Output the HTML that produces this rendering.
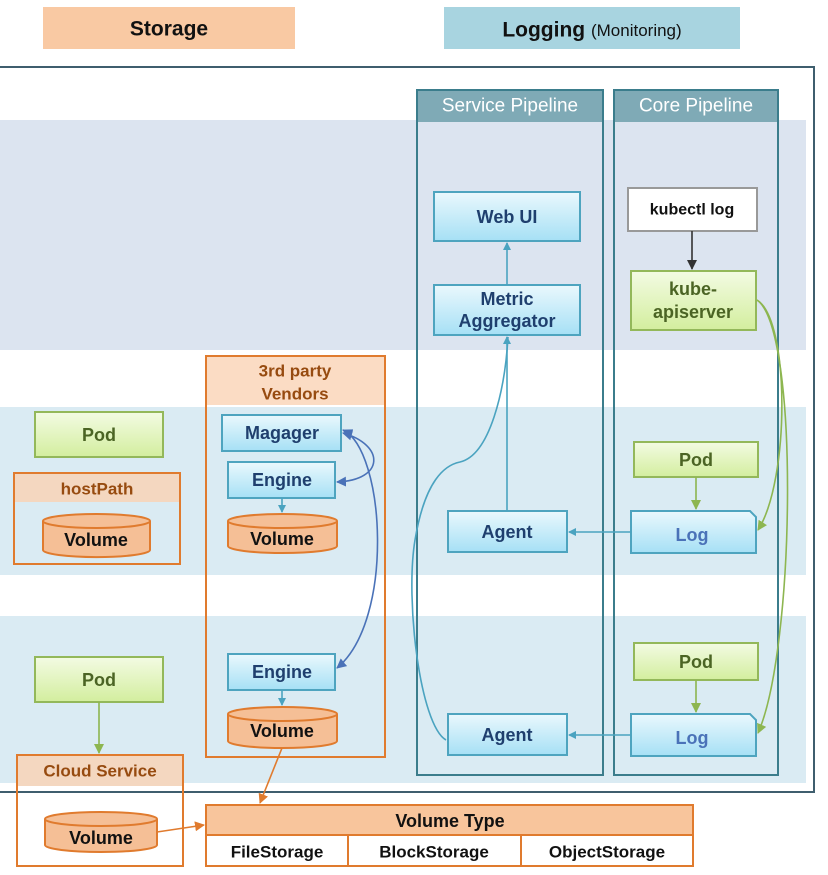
<!DOCTYPE html>
<html><head><meta charset="utf-8"><style>
html,body{margin:0;padding:0;background:#fff}
svg{display:block}
text{font-family:"Liberation Sans","DejaVu Sans",sans-serif;font-weight:bold;text-anchor:middle;dominant-baseline:central}
text.n{font-weight:normal}
</style></head><body>
<svg width="828" height="875" viewBox="0 0 828 875" xmlns="http://www.w3.org/2000/svg">
<defs>
<linearGradient id="bl" x1="0" y1="0" x2="0" y2="1"><stop offset="0" stop-color="#eaf8fd"/><stop offset="1" stop-color="#a6e0f5"/></linearGradient>
<linearGradient id="gr" x1="0" y1="0" x2="0" y2="1"><stop offset="0" stop-color="#f3fbe3"/><stop offset="1" stop-color="#d3ee9e"/></linearGradient>
<marker id="aB" markerWidth="8" markerHeight="8" refX="7" refY="4" orient="auto" markerUnits="userSpaceOnUse"><path d="M0,0L8,4L0,8z" fill="#4aa3c0"/></marker>
<marker id="aD" markerWidth="10" markerHeight="10" refX="9" refY="5" orient="auto-start-reverse" markerUnits="userSpaceOnUse"><path d="M0,0L10,5L0,10z" fill="#4a72b8"/></marker>
<marker id="aG" markerWidth="10" markerHeight="10" refX="9" refY="5" orient="auto" markerUnits="userSpaceOnUse"><path d="M0,0L10,5L0,10z" fill="#8db650"/></marker>
<marker id="aK" markerWidth="10" markerHeight="10" refX="9" refY="5" orient="auto" markerUnits="userSpaceOnUse"><path d="M0,0L10,5L0,10z" fill="#333"/></marker>
<marker id="aO" markerWidth="10" markerHeight="10" refX="9" refY="5" orient="auto" markerUnits="userSpaceOnUse"><path d="M0,0L10,5L0,10z" fill="#e07b2e"/></marker>
</defs>
<rect x="43" y="7" width="252" height="42" fill="#f9c9a3"/>
<text x="169" y="29" font-size="21" fill="#111">Storage</text>
<rect x="444" y="7" width="296" height="42" fill="#a8d4e0"/>
<text x="592" y="30" font-size="21" fill="#111">Logging <tspan style="font-weight:normal" font-size="17">(Monitoring)</tspan></text>
<rect x="0" y="120" width="806" height="230" fill="#dce4f0"/>
<rect x="0" y="407" width="806" height="168" fill="#daebf3"/>
<rect x="0" y="616" width="806" height="167" fill="#daebf3"/>
<rect x="-2" y="67" width="816" height="725" fill="none" stroke="#3f5e6e" stroke-width="2"/>
<rect x="417" y="90" width="186" height="32" fill="#7faab6"/>
<text class="n" x="510" y="106" font-size="19" fill="#fff">Service Pipeline</text>
<rect x="417" y="90" width="186" height="685" fill="none" stroke="#3b7d8c" stroke-width="2"/>
<rect x="614" y="90" width="164" height="32" fill="#7faab6"/>
<text class="n" x="696" y="106" font-size="19" fill="#fff">Core Pipeline</text>
<rect x="614" y="90" width="164" height="685" fill="none" stroke="#3b7d8c" stroke-width="2"/>
<rect x="206" y="356" width="179" height="49" fill="#fbdcc4"/>
<rect x="206" y="356" width="179" height="401" fill="none" stroke="#e07b2e" stroke-width="2"/>
<text x="295" y="371" font-size="17" fill="#974b10">3rd party</text>
<text x="295" y="394" font-size="17" fill="#974b10">Vendors</text>
<rect x="14" y="473" width="166" height="29" fill="#f4d7c0"/>
<rect x="14" y="473" width="166" height="91" fill="none" stroke="#e07b2e" stroke-width="2"/>
<text x="97" y="489" font-size="17" fill="#974b10">hostPath</text>
<rect x="17" y="755" width="166" height="31" fill="#f4d7c0"/>
<rect x="17" y="755" width="166" height="111" fill="none" stroke="#e07b2e" stroke-width="2"/>
<text x="100" y="771" font-size="17" fill="#974b10">Cloud Service</text>
<rect x="206" y="805" width="487" height="30" fill="#f8c59c" stroke="#e07b2e" stroke-width="2"/>
<rect x="206" y="835" width="487" height="31" fill="#fff" stroke="#e07b2e" stroke-width="2"/>
<line x1="348" y1="835" x2="348" y2="866" stroke="#e07b2e" stroke-width="2"/>
<line x1="521" y1="835" x2="521" y2="866" stroke="#e07b2e" stroke-width="2"/>
<text x="450" y="821" font-size="18" fill="#111">Volume Type</text>
<text x="277" y="852" font-size="17" fill="#111">FileStorage</text>
<text x="434" y="852" font-size="17" fill="#111">BlockStorage</text>
<text x="607" y="852" font-size="17" fill="#111">ObjectStorage</text>
<g stroke="#93b85a" stroke-width="2" fill="url(#gr)">
<rect x="35" y="412" width="128" height="45"/>
<rect x="35" y="657" width="128" height="45"/>
<rect x="634" y="442" width="124" height="35"/>
<rect x="634" y="643" width="124" height="37"/>
<rect x="631" y="271" width="125" height="59"/>
</g>
<g font-size="18" fill="#4b6424">
<text x="99" y="435">Pod</text><text x="99" y="680">Pod</text>
<text x="696" y="460">Pod</text><text x="696" y="662">Pod</text>
<text x="693" y="289">kube-</text><text x="693" y="312">apiserver</text>
</g>
<rect x="628" y="188" width="129" height="43" fill="#fff" stroke="#999" stroke-width="2"/>
<text x="692" y="210" font-size="16" fill="#111">kubectl log</text>
<g stroke="#4ea4bf" stroke-width="2" fill="url(#bl)">
<rect x="434" y="192" width="146" height="49"/>
<rect x="434" y="285" width="146" height="50"/>
<rect x="448" y="511" width="119" height="41"/>
<rect x="448" y="714" width="119" height="41"/>
<rect x="222" y="415" width="119" height="36"/>
<rect x="228" y="462" width="107" height="36"/>
<rect x="228" y="654" width="107" height="36"/>
<path d="M631,511H750L756,517V553H631Z"/>
<path d="M631,714H750L756,720V756H631Z"/>
</g>
<g font-size="18" fill="#1f3f6e">
<text x="507" y="217">Web UI</text>
<text x="507" y="299">Metric</text><text x="507" y="321">Aggregator</text>
<text x="507" y="532">Agent</text><text x="507" y="735">Agent</text>
<text x="282" y="433">Magager</text><text x="282" y="480">Engine</text><text x="282" y="672">Engine</text>
</g>
<g font-size="18" fill="#4a72b8"><text x="692" y="535">Log</text><text x="692" y="738">Log</text></g>
<g stroke="#e07b2e" stroke-width="2" fill="#f5bf96">
<path d="M43,521V550A53,7 0 0 0 150,550V521"/><ellipse cx="96.5" cy="521" rx="53.5" ry="7"/>
<path d="M228,521V546A54.5,7 0 0 0 337,546V521"/><ellipse cx="282.5" cy="521" rx="54.5" ry="7"/>
<path d="M228,714V741A54.5,7 0 0 0 337,741V714"/><ellipse cx="282.5" cy="714" rx="54.5" ry="7"/>
<path d="M45,819V845A56,7 0 0 0 157,845V819"/><ellipse cx="101" cy="819" rx="56" ry="7"/>
</g>
<g font-size="18" fill="#111">
<text x="96" y="540">Volume</text><text x="282" y="539">Volume</text>
<text x="282" y="731">Volume</text><text x="101" y="838">Volume</text>
</g>
<g fill="none" stroke-width="1.6">
<path d="M507,285V243" stroke="#4aa3c0" marker-end="url(#aB)"/>
<path d="M507,511V337" stroke="#4aa3c0" marker-end="url(#aB)"/>
<path d="M446,740C420,725 405,600 415,540C425,480 445,465 460,462C490,455 505,390 508,337" stroke="#4aa3c0"/>
<path d="M631,532H569" stroke="#4aa3c0" marker-end="url(#aB)"/>
<path d="M631,735H569" stroke="#4aa3c0" marker-end="url(#aB)"/>
<path d="M282,498V512" stroke="#4aa3c0" marker-end="url(#aB)"/>
<path d="M282,690V705" stroke="#4aa3c0" marker-end="url(#aB)"/>
<path d="M692,231V269" stroke="#333" marker-end="url(#aK)"/>
<path d="M696,477V509" stroke="#8db650" marker-end="url(#aG)"/>
<path d="M696,680V712" stroke="#8db650" marker-end="url(#aG)"/>
<path d="M757,300C790,320 790,480 758,530" stroke="#8db650" marker-end="url(#aG)"/>
<path d="M757,300C800,330 795,650 758,733" stroke="#8db650" marker-end="url(#aG)"/>
<path d="M99,702V753" stroke="#8db650" marker-end="url(#aG)"/>
<path d="M343,433C385,445 385,480 337,482" stroke="#4a72b8" marker-start="url(#aD)" marker-end="url(#aD)"/>
<path d="M343,430C385,450 395,620 337,668" stroke="#4a72b8" marker-start="url(#aD)" marker-end="url(#aD)"/>
<path d="M282,748L260,803" stroke="#e07b2e" marker-end="url(#aO)"/>
<path d="M157,832L204,825" stroke="#e07b2e" marker-end="url(#aO)"/>
</g>
</svg>
</body></html>
